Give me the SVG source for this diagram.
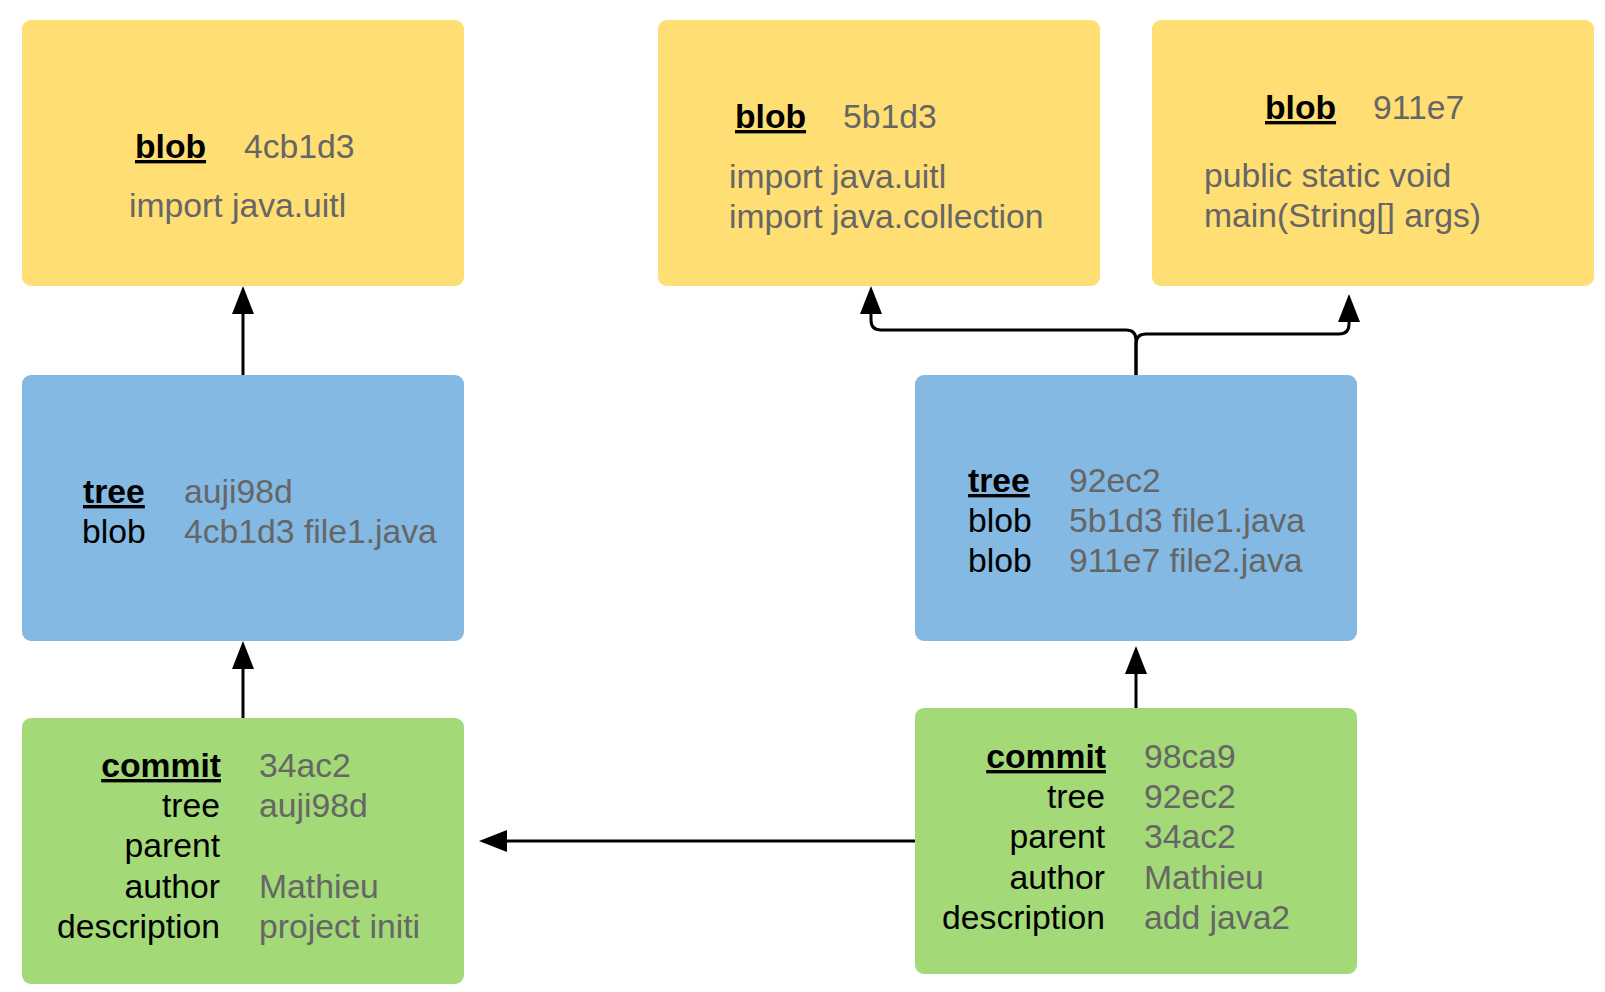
<svg xmlns="http://www.w3.org/2000/svg" width="1605" height="992" viewBox="0 0 1605 992">
<style>
text{font-family:"Liberation Sans",Arial,sans-serif;font-size:33.7px;}
.k{fill:#000;}
.h{fill:#000;font-weight:bold;text-decoration:underline;}
.v{fill:#666666;}
.r{text-anchor:end;}
.blob{fill:#FFDE73;}
.tree{fill:#83B9E3;}
.commit{fill:#A3D977;}
.c{fill:none;stroke:#000;stroke-width:3;}
</style>
<defs>
<marker id="ah" viewBox="0 0 28 22" markerWidth="28" markerHeight="22" refX="0" refY="11" markerUnits="userSpaceOnUse" orient="auto">
<path d="M0,0 L28,11 L0,22 Z" fill="#000"/>
</marker>
</defs>
<g id="connectors">
<path class="c" marker-end="url(#ah)" d="M243,375 V314"/>
<path class="c" marker-end="url(#ah)" d="M243,718 V669"/>
<path class="c" marker-end="url(#ah)" d="M1136,708 V674"/>
<path class="c" marker-end="url(#ah)" d="M915,841 H507"/>
<path class="c" marker-end="url(#ah)" d="M1136,375 V340 Q1136,330 1126,330 H881 Q871,330 871,320 V314"/>
<path class="c" marker-end="url(#ah)" d="M1136,375 V344 Q1136,334 1146,334 H1339 Q1349,334 1349,324 V322"/>
</g>
<g id="blob1">
<rect class="blob" x="22" y="20" width="442" height="266" rx="9"/>
<text class="h" x="135" y="158">blob</text>
<text class="v" x="244" y="158">4cb1d3</text>
<text class="v" x="129" y="217">import java.uitl</text>
</g>
<g id="blob2">
<rect class="blob" x="658" y="20" width="442" height="266" rx="9"/>
<text class="h" x="735" y="128">blob</text>
<text class="v" x="843" y="128">5b1d3</text>
<text class="v" x="729" y="188">import java.uitl</text>
<text class="v" x="729" y="228">import java.collection</text>
</g>
<g id="blob3">
<rect class="blob" x="1152" y="20" width="442" height="266" rx="9"/>
<text class="h" x="1265" y="119">blob</text>
<text class="v" x="1373" y="119">911e7</text>
<text class="v" x="1204" y="187">public static void</text>
<text class="v" x="1204" y="227">main(String[] args)</text>
</g>
<g id="tree1">
<rect class="tree" x="22" y="375" width="442" height="266" rx="9"/>
<text class="h" x="83" y="503">tree</text>
<text class="v" x="184" y="503">auji98d</text>
<text class="k" x="82" y="543">blob</text>
<text class="v" x="184" y="543">4cb1d3 file1.java</text>
</g>
<g id="tree2">
<rect class="tree" x="915" y="375" width="442" height="266" rx="9"/>
<text class="h" x="968" y="492">tree</text>
<text class="v" x="1069" y="492">92ec2</text>
<text class="k" x="968" y="532">blob</text>
<text class="v" x="1069" y="532">5b1d3 file1.java</text>
<text class="k" x="968" y="572">blob</text>
<text class="v" x="1069" y="572">911e7 file2.java</text>
</g>
<g id="commit1">
<rect class="commit" x="22" y="718" width="442" height="266" rx="9"/>
<text class="h r" x="221" y="777">commit</text>
<text class="k r" x="220" y="817">tree</text>
<text class="k r" x="220" y="857">parent</text>
<text class="k r" x="220" y="898">author</text>
<text class="k r" x="220" y="938">description</text>
<text class="v" x="259" y="777">34ac2</text>
<text class="v" x="259" y="817">auji98d</text>
<text class="v" x="259" y="898">Mathieu</text>
<text class="v" x="259" y="938">project initi</text>
</g>
<g id="commit2">
<rect class="commit" x="915" y="708" width="442" height="266" rx="9"/>
<text class="h r" x="1106" y="768">commit</text>
<text class="k r" x="1105" y="808">tree</text>
<text class="k r" x="1105" y="848">parent</text>
<text class="k r" x="1105" y="889">author</text>
<text class="k r" x="1105" y="929">description</text>
<text class="v" x="1144" y="768">98ca9</text>
<text class="v" x="1144" y="808">92ec2</text>
<text class="v" x="1144" y="848">34ac2</text>
<text class="v" x="1144" y="889">Mathieu</text>
<text class="v" x="1144" y="929">add java2</text>
</g>
</svg>
